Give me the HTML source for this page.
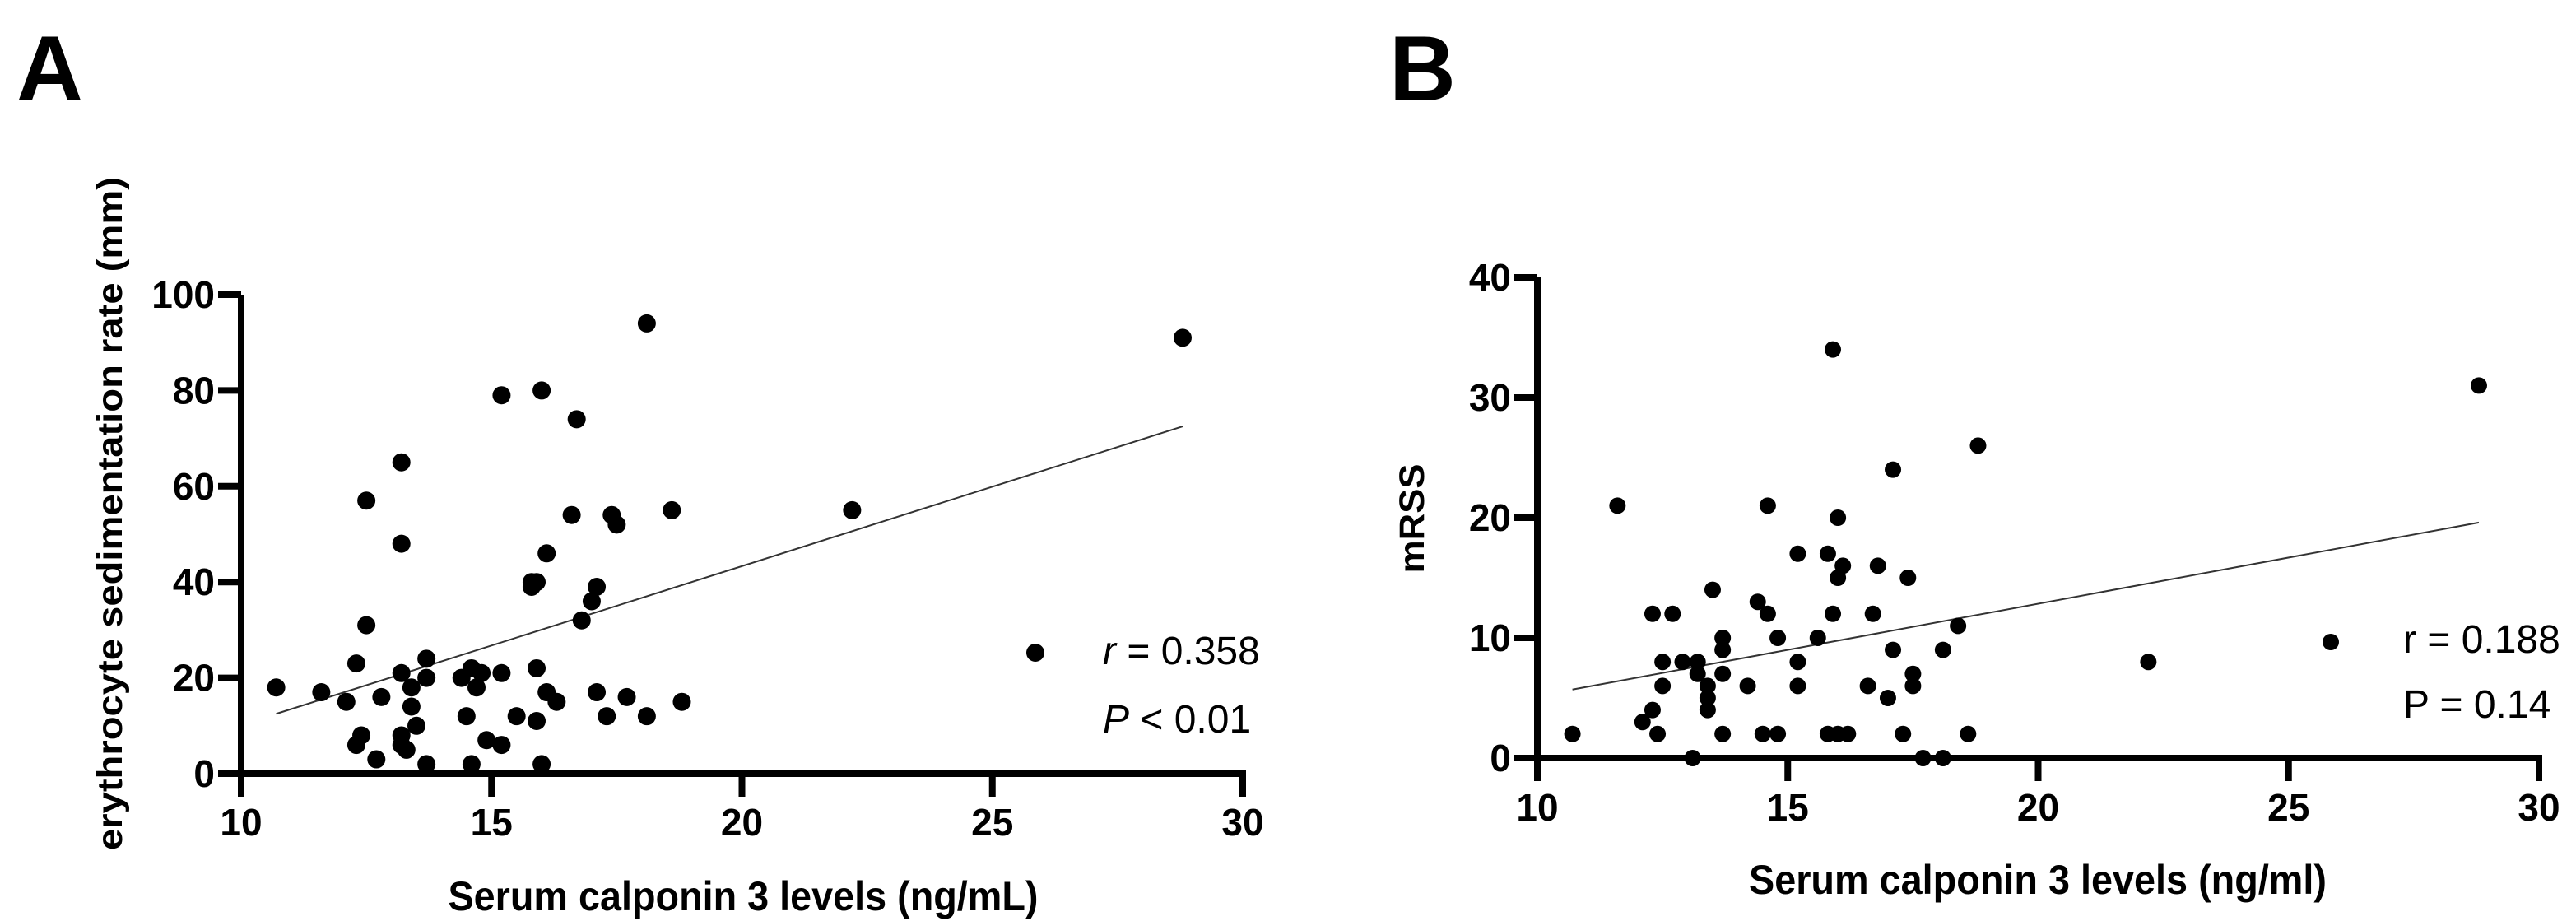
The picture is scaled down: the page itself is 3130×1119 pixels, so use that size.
<!DOCTYPE html>
<html><head><meta charset="utf-8">
<style>
html,body{margin:0;padding:0;background:#fff;}
svg{display:block;}
text{fill:#000;}
.tick{font-family:"Liberation Sans Narrow","Liberation Sans",sans-serif;font-weight:bold;font-size:46px;}
.title{font-family:"Liberation Sans Narrow","Liberation Sans",sans-serif;font-weight:bold;font-size:50px;}
.ytitle{font-family:"Liberation Sans",sans-serif;font-weight:bold;font-size:43px;}
.stat{font-family:"Liberation Sans Narrow","Liberation Sans",sans-serif;font-size:48px;}
.panel{font-family:"Liberation Sans",sans-serif;font-weight:bold;font-size:112px;}
</style></head>
<body>
<svg id="fig" width="3130" height="1119" viewBox="0 0 3130 1119" xmlns="http://www.w3.org/2000/svg">
<text class="panel" x="20" y="122">A</text>
<text class="panel" x="1688" y="122">B</text>
</svg>
<script>
// Panel A data
const xTicksA = [10, 15, 20, 25, 30];
const yTicksA = [0, 20, 40, 60, 80, 100];
const esrX = [10.7,11.6,12.1,12.3,12.5,12.5,12.4,12.3,12.7,12.8,13.2,13.2,13.2,13.4,13.4,13.5,13.2,13.2,13.3,13.7,13.7,13.7,14.4,14.6,14.8,14.7,14.5,14.6,14.9,15.2,15.2,15.2,15.5,15.9,15.8,15.9,15.8,15.9,16.1,16.3,16.0,16.1,16.0,16.6,16.7,16.8,17.0,17.1,17.1,17.3,17.4,17.5,17.7,18.1,18.1,18.6,18.8,22.2,28.8];
const esrY = [18,17,15,23,57,31,8,6,3,16,65,48,21,18,14,10,8,6,5,2,20,24,20,22,21,18,12,2,7,6,21,79,12,11,40,40,39,22,17,15,80,46,2,54,74,32,36,39,17,12,54,52,16,12,94,55,15,55,91];
const fitA = [[10.7, 12.5], [28.8, 72.5]];
// Panel B data
const xTicksB = [10, 15, 20, 25, 30];
const yTicksB = [0, 10, 20, 30, 40];
const mrssX = [10.7,11.6,12.1,12.3,12.3,12.7,12.4,12.5,12.5,12.9,13.1,13.2,13.2,13.4,13.4,13.4,13.5,13.7,13.7,13.7,13.7,14.2,14.4,14.6,14.6,14.5,14.8,14.8,15.2,15.2,15.2,15.6,15.8,15.9,15.9,16.0,16.0,16.1,15.8,16.0,16.2,16.6,16.7,16.8,17.0,17.1,17.1,17.3,17.4,17.5,17.5,17.7,18.1,18.1,18.4,18.6,18.8,22.2,28.8];
const mrssY = [2,21,3,4,12,12,2,8,6,8,0,8,7,6,5,4,14,7,10,9,2,6,13,21,12,2,10,2,17,8,6,10,17,34,12,15,20,16,2,2,2,6,12,16,5,9,24,2,15,7,6,0,9,0,11,2,26,8,31];
const fitB = [[10.7, 5.7], [28.8, 19.6]];

const NS = 'http://www.w3.org/2000/svg';
const svg = document.getElementById('fig');
function mk(tag, attrs, parent) {
  const e = document.createElementNS(NS, tag);
  for (const k in attrs) e.setAttribute(k, attrs[k]);
  (parent || svg).appendChild(e);
  return e;
}
function panel(cfg) {
  const g = mk('g', {});
  
  
  const sx = v => cfg.x0 + (v - cfg.xmin) / (cfg.xmax - cfg.xmin) * (cfg.x1 - cfg.x0);
  const sy = v => cfg.y0 - (v - cfg.ymin) / (cfg.ymax - cfg.ymin) * (cfg.y0 - cfg.y1);
  // axes
  const ya = mk('line', {x1: cfg.x0, y1: cfg.y1, x2: cfg.x0, y2: cfg.y0 + 28, stroke: '#000', 'stroke-width': 8}, g);
  
  
  const xa = mk('line', {x1: cfg.x0 - 28, y1: cfg.y0, x2: cfg.x1 + 4, y2: cfg.y0, stroke: '#000', 'stroke-width': 8}, g);
  
  
  cfg.yTicks.forEach(v => {
    const y = sy(v);
    const t = mk('line', {x1: cfg.x0 - 28, y1: y, x2: cfg.x0, y2: y, stroke: '#000', 'stroke-width': 8}, g);
    
    
    const l = mk('text', {x: cfg.x0 - 32, y: y + 16, 'text-anchor': 'end', class: 'tick'}, g);
    l.textContent = v;
    
    
  });
  cfg.xTicks.forEach(v => {
    const x = sx(v);
    const t = mk('line', {x1: x, y1: cfg.y0, x2: x, y2: cfg.y0 + 28, stroke: '#000', 'stroke-width': 8}, g);
    
    
    const l = mk('text', {x: x, y: cfg.xlabY, 'text-anchor': 'middle', class: 'tick'}, g);
    l.textContent = v;
    
    
  });
  // fit line
  const f = mk('line', {x1: sx(cfg.fit[0][0]), y1: sy(cfg.fit[0][1]), x2: sx(cfg.fit[1][0]), y2: sy(cfg.fit[1][1]), stroke: '#333', 'stroke-width': 2}, g);
  
  
  // points
  cfg.xs.forEach((xv, i) => {
    const c = mk('circle', {cx: sx(xv), cy: sy(cfg.ys[i]), r: cfg.r, fill: '#000'}, g);
    
    
  });
  // legend dot
  const ld = mk('circle', {cx: cfg.legX, cy: cfg.legY, r: cfg.r, fill: '#000'}, g);
  
  
  // titles
  const xt = mk('text', {x: cfg.xtX, y: cfg.xtY, 'text-anchor': 'middle', class: 'title', textLength: cfg.xtLen, lengthAdjust: 'spacingAndGlyphs'}, g);
  xt.textContent = cfg.xTitle;
  
  
  const yt = mk('text', {x: 0, y: 0, 'text-anchor': 'middle', class: 'ytitle', textLength: cfg.ytLen, lengthAdjust: 'spacingAndGlyphs', transform: 'translate(' + cfg.ytX + ',' + cfg.ytY + ') rotate(-90)'}, g);
  yt.textContent = cfg.yTitle;
  
  
  // stats
  const s1 = mk('text', {x: cfg.stX, y: cfg.st1Y, class: 'stat'}, g);
  s1.innerHTML = cfg.st1;
  
  
  const s2 = mk('text', {x: cfg.stX, y: cfg.st2Y, class: 'stat'}, g);
  s2.innerHTML = cfg.st2;
  
  
}
panel({name: 'panel-a-esr', x0: 293, x1: 1510, xmin: 10, xmax: 30, y0: 940, y1: 358, ymin: 0, ymax: 100,
  xTicks: xTicksA, yTicks: yTicksA, xs: esrX, ys: esrY, fit: fitA, r: 11, xlabY: 1015,
  legX: 1258, legY: 793,
  xTitle: 'Serum calponin 3 levels (ng/mL)', xtX: 903, xtY: 1106, xtLen: 717,
  yTitle: 'erythrocyte sedimentation rate (mm)', ytX: 148, ytY: 624, ytLen: 818,
  stX: 1340, st1Y: 807, st2Y: 890,
  st1: '<tspan font-style="italic">r</tspan> = 0.358', st2: '<tspan font-style="italic">P</tspan> &lt; 0.01'});
panel({name: 'panel-b-mrss', x0: 1868, x1: 3085, xmin: 10, xmax: 30, y0: 921, y1: 337, ymin: 0, ymax: 40,
  xTicks: xTicksB, yTicks: yTicksB, xs: mrssX, ys: mrssY, fit: fitB, r: 10, xlabY: 997,
  legX: 2832, legY: 780,
  xTitle: 'Serum calponin 3 levels (ng/ml)', xtX: 2476, xtY: 1086, xtLen: 702,
  yTitle: 'mRSS', ytX: 1730, ytY: 630, ytLen: 133,
  stX: 2920, st1Y: 793, st2Y: 872,
  st1: 'r = 0.188', st2: 'P = 0.14'});
</script>
</body></html>
